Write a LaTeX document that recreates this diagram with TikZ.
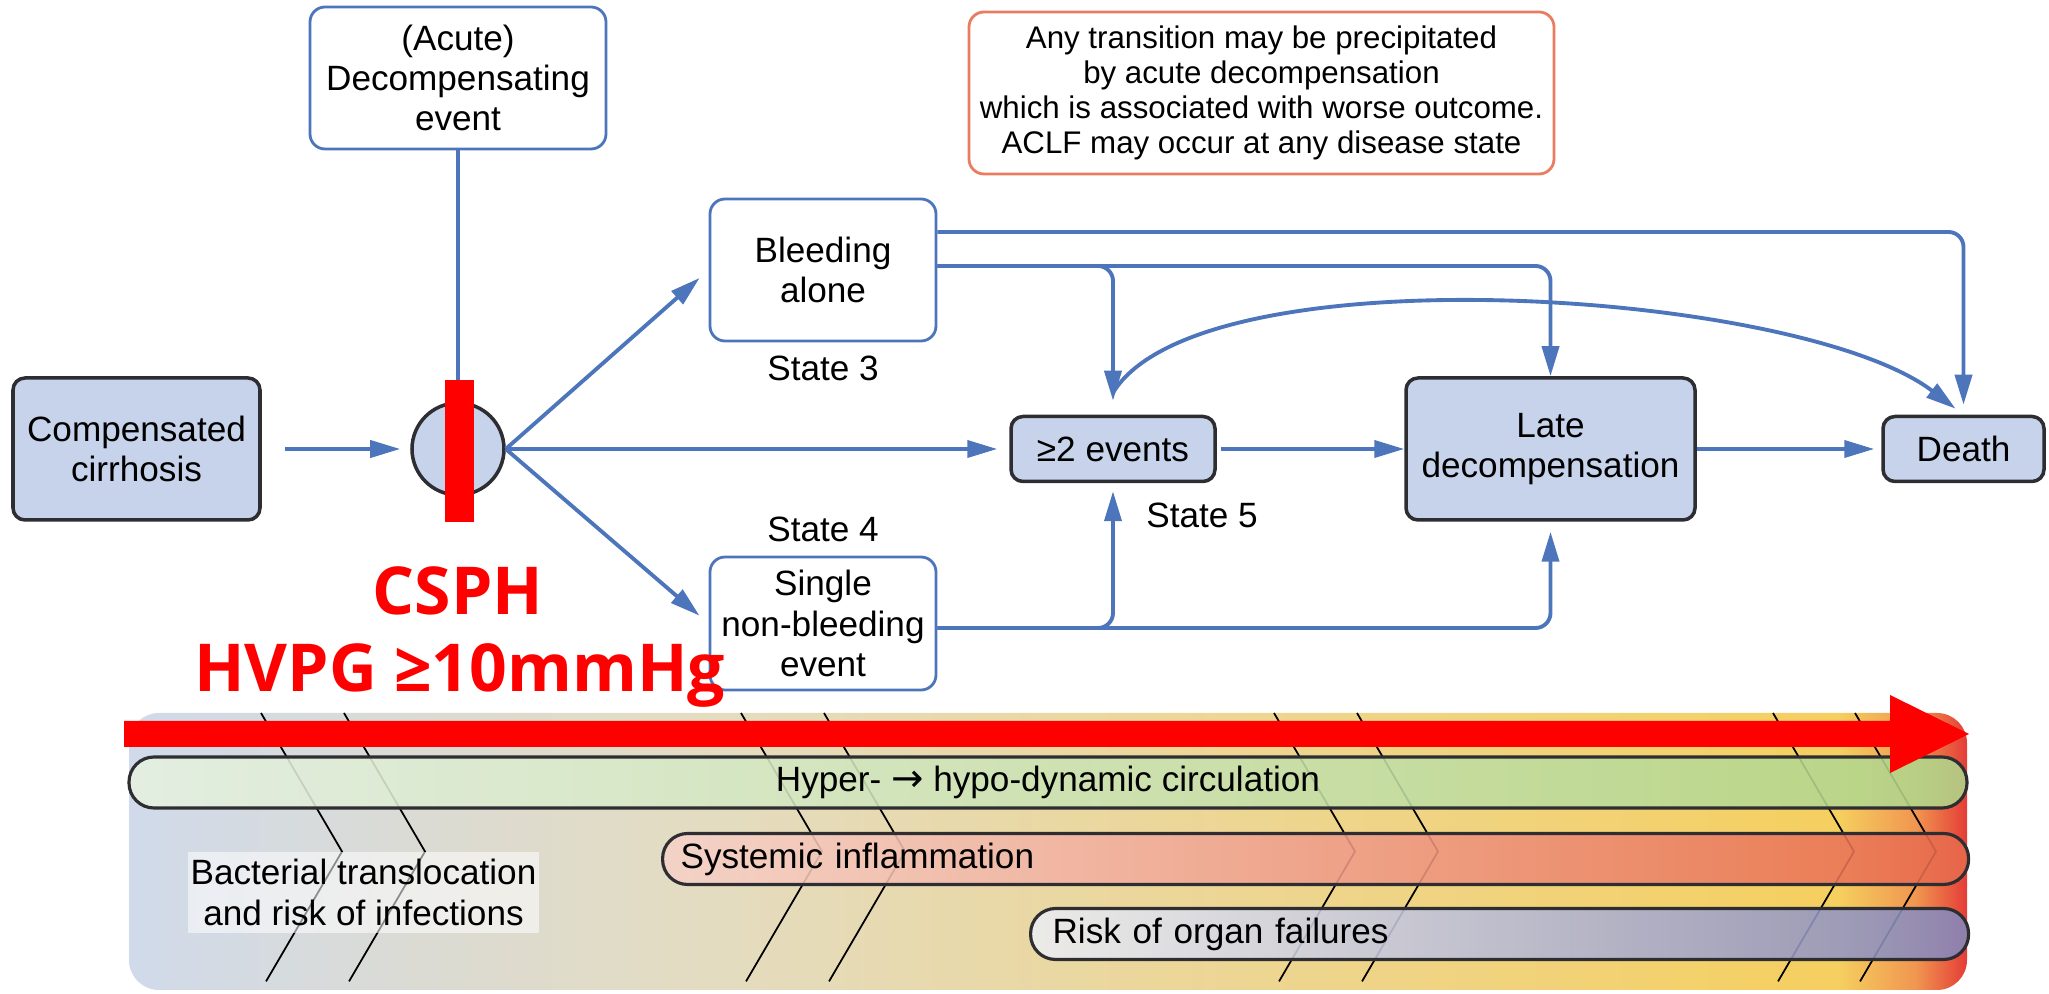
\documentclass[tikz,border=0pt]{standalone}
\usepackage{fontspec}
\setmainfont{Liberation Sans}
\newfontfamily\csphfont{Open Sans}
\newfontfamily\arrowfont{DejaVu Sans}
\usetikzlibrary{positioning,arrows.meta}
\definecolor{flowblue}{RGB}{77,117,187}
\definecolor{boxfill}{RGB}{198,211,234}
\definecolor{boxline}{RGB}{45,45,50}
\definecolor{noteline}{RGB}{232,125,95}
\definecolor{tlA}{RGB}{208,218,234}
\definecolor{tlAB}{RGB}{218,219,214}
\definecolor{tlB}{RGB}{228,220,192}
\definecolor{tlC}{RGB}{237,214,148}
\definecolor{tlD}{RGB}{245,207,95}
\definecolor{tlE}{RGB}{240,150,80}
\definecolor{tlF}{RGB}{228,60,55}
\definecolor{grnA}{RGB}{230,241,224}
\definecolor{grnB}{RGB}{176,214,138}
\definecolor{infA}{RGB}{246,210,200}
\definecolor{infB}{RGB}{232,106,76}
\definecolor{orgA}{RGB}{236,238,242}
\definecolor{orgB}{RGB}{132,136,188}
\pgfdeclarehorizontalshading{tlshade}{100bp}{color(0bp)=(tlA); color(25bp)=(tlA); color(32bp)=(tlAB); color(41bp)=(tlB); color(55bp)=(tlC); color(71.5bp)=(tlD); color(73.6bp)=(tlE); color(75bp)=(tlF); color(100bp)=(tlF)}
\newcommand\flowfont{\fontsize{10}{11.5}\selectfont}
\newcommand\notefont{\fontsize{8.9}{10}\selectfont}
\newcommand\bigred{\csphfont\bfseries\fontsize{18.8}{22}\selectfont}

\begin{document}
\begin{tikzpicture}[shorten >= 1mm, node distance = 2cm, on grid,
    >={Triangle[length=3mm, width=1.7mm]},
    flowline/.style = {flowblue, line width=1.1pt},
    whitebox/.style = {draw=flowblue, line width=0.8pt, fill=white, rounded corners=1.5mm,
        align=center, inner sep=0pt, font=\flowfont},
    bluebox/.style = {draw=boxline, line width=1pt, fill=boxfill, rounded corners=1.2mm,
        align=center, inner sep=0pt, font=\flowfont},
    hubnode/.style = {circle, draw=boxline, line width=1pt, fill=boxfill, minimum size=0.92cm, inner sep=0pt},
    statelabel/.style = {font=\flowfont},
    band/.style = {draw=boxline, line width=0.9pt, rounded corners=2.5mm, fill opacity=0.88,
        text opacity=1, minimum height=0.51cm, inner ysep=0pt, font=\flowfont},
    chevron/.style = {draw=black, line width=0.5pt},
    csph/.style = {text=red, font=\bigred, inner sep=0pt}]
   \useasboundingbox (0,0) rectangle (20.49,-9.94);
   \node[bluebox, minimum width=2.47cm, minimum height=1.42cm] (comp) at (1.365,-4.49) {Compensated\\cirrhosis};
   \node[hubnode] (hub) [right = 3.215cm of comp] {};
   \node[whitebox, minimum width=2.96cm, minimum height=1.42cm] (acute) [above = 3.71cm of hub] {(Acute)\\Decompensating\\event};
   \node[whitebox, minimum width=2.26cm, minimum height=1.42cm] (bleed) [above right = 1.79cm and 3.65cm of hub] {Bleeding\\alone};
   \node[whitebox, minimum width=2.26cm, minimum height=1.33cm] (single) [below right = 1.745cm and 3.65cm of hub] {Single\\non-bleeding\\event};
   \node[bluebox, minimum width=2.04cm, minimum height=0.65cm] (two_ev) [right = 6.55cm of hub] {≥2 events};
   \node[bluebox, minimum width=2.89cm, minimum height=1.42cm] (late) [right = 4.375cm of two_ev] {Late\\decompensation};
   \node[bluebox, minimum width=1.61cm, minimum height=0.65cm] (death) [right = 4.13cm of late] {Death};
   \node[statelabel] (state_3) [below = 0.98cm of bleed] {State 3};
   \node[statelabel] (state_4) [above = 0.945cm of single] {State 4};
   \node[statelabel] (state_5) [below right = 0.66cm and 0.89cm of two_ev] {State 5};
   \node[draw=noteline, line width=0.8pt, rounded corners=1.5mm, align=center, font=\notefont,
       minimum width=5.85cm, minimum height=1.62cm, inner sep=0pt] (note) at (12.615,-0.93)
       {Any transition may be precipitated\\by acute decompensation\\which is associated with worse outcome.\\ACLF may occur at any disease state};
   \coordinate (ev_top) at ([yshift=2.2mm]two_ev.north);
   \draw[flowline] (acute) -- (hub);
   \path[->, flowline]
    (comp) edge[shorten <= 2.3mm] (hub)
    (hub) edge[shorten >= 1.2mm] (two_ev)
    (hub.east) edge[shorten >= 1.2mm] (bleed.west)
    (hub.east) edge[shorten >= 1.2mm] (single.west)
    (two_ev) edge[shorten <= 0.4mm, shorten >= 0pt] (late)
    (late) edge[shorten >= 0.7mm] (death);
   \draw[->, flowline, rounded corners=1.5mm] ([yshift=3.8mm]bleed.east) -| (death.north);
   \draw[->, flowline, rounded corners=1.5mm, shorten >= 0pt] ([yshift=0.4mm]bleed.east) -| (late.north);
   \draw[->, flowline, rounded corners=1.5mm, shorten >= 1.4mm] ([yshift=0.4mm]bleed.east) -| (two_ev.north);
   \draw[->, flowline, rounded corners=1.5mm, shorten >= 0.8mm] ([yshift=-0.45mm]single.east) -| (two_ev.south);
   \draw[->, flowline, rounded corners=1.5mm] ([yshift=-0.45mm]single.east) -| (late.south);
   \draw[->, flowline] (ev_top) .. controls (12.00,-2.50) and (18.00,-2.90) .. (death.north);
   \path[shading=tlshade, rounded corners=3mm] (1.29,-7.13) rectangle (19.67,-9.90);
   \foreach \x in {2.61,3.44,7.41,8.24,12.74,13.57,17.73,18.55}
     \draw[chevron] (\x,-7.13) -- ++(0.81,-1.385) -- ++(-0.81,-1.385);
   \node[band, left color=grnA, right color=grnB, minimum width=18.38cm] (circ) at (10.48,-7.825)
       {Hyper- {\arrowfont\fontsize{11}{11}\selectfont →} hypo-dynamic circulation};
   \node[band, left color=infA, right color=infB, text width=12.7cm, inner xsep=0.18cm, align=left,
       anchor=west] (infl) at (6.61,-8.59) {Systemic inflammation};
   \node[band, left color=orgA, right color=orgB, text width=8.94cm, inner xsep=0.22cm, align=left,
       anchor=west] (organ) at (10.29,-9.34) {Risk of organ failures};
   \node[fill=white, fill opacity=0.55, text opacity=1, minimum width=3.51cm, minimum height=0.81cm,
       inner sep=0pt, align=center, font=\flowfont] (bact) at (3.635,-8.925)
       {Bacterial translocation\\and risk of infections};
   \node[fill=red, minimum width=0.29cm, minimum height=1.42cm, inner sep=0pt] (cut) at ([xshift=0.15mm,yshift=-0.2mm]hub) {};
   \fill[red] (1.24,-7.21) -- (18.90,-7.21) -- (18.90,-6.95) -- (19.69,-7.34) -- (18.90,-7.73)
       -- (18.90,-7.47) -- (1.24,-7.47) -- cycle;
   \node[csph, anchor=base] (csph) at (4.58,-6.15) {CSPH};
   \node[csph, anchor=base] (hvpg) at (4.595,-6.92) {HVPG ≥10mmHg};
\end{tikzpicture}
\end{document}
